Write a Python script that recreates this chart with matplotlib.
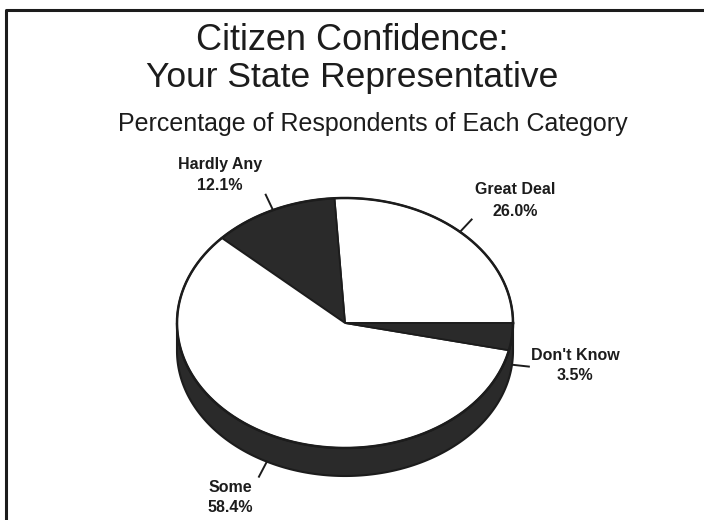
import numpy as np
import matplotlib
matplotlib.use("Agg")
import matplotlib.pyplot as plt
from matplotlib.patches import Polygon

plt.rcParams['font.family'] = ['Liberation Sans', 'DejaVu Sans']

# Survey results
categories = ["Great Deal", "Hardly Any", "Some", "Don't Know"]
shares = [26.0, 12.1, 58.4, 3.5]

# Styling for each slice (top face) and the label anchor points
slice_colors = ["white", "#2a2a2a", "white", "#2a2a2a"]
label_pos = [(515, 190), (220, 164), (230, 487), (575, 355)]

INK = "#1c1c1c"
DARK = "#2a2a2a"

fig = plt.figure(figsize=(7.04, 5.2), dpi=100)
ax = fig.add_axes([0, 0, 1, 1])
ax.set_xlim(0, 704)
ax.set_ylim(520, 0)
ax.axis("off")

# Frame lines (top and left)
ax.plot([6, 6, 704], [520, 10, 10], color=INK, lw=2.2, solid_capstyle="butt")

# Titles
ax.text(352, 40, "Citizen Confidence:", ha="center", va="center",
        fontsize=26, color=INK)
ax.text(352, 78, "Your State Representative", ha="center", va="center",
        fontsize=25.5, color=INK)
ax.text(373, 124, "Percentage of Respondents of Each Category", ha="center",
        va="center", fontsize=18, color=INK)

# 3-D pie geometry
cx, cy, rx, ry, depth = 345, 323, 168, 125, 28


def rim(t_deg, drop=0.0):
    t = np.radians(t_deg)
    return cx + rx * np.cos(t), cy - ry * np.sin(t) + drop


bounds = np.concatenate([[0.0], np.cumsum(shares)]) * 3.6

# Side wall along the front half of the ellipse
t = np.linspace(180, 360, 300)
xt, yt = rim(t)
xb, yb = rim(t, depth)
wall = np.column_stack([np.concatenate([xt, xb[::-1]]),
                        np.concatenate([yt, yb[::-1]])])
ax.add_patch(Polygon(wall, closed=True, facecolor=DARK, edgecolor=INK, lw=1.5))

# Top faces of the slices
for i in range(len(shares)):
    ts = np.linspace(bounds[i], bounds[i + 1], 200)
    xs, ys = rim(ts)
    pts = np.column_stack([np.concatenate([[cx], xs]), np.concatenate([[cy], ys])])
    ax.add_patch(Polygon(pts, closed=True, facecolor=slice_colors[i],
                         edgecolor=INK, lw=1.3, joinstyle="miter"))

# Outline of the top ellipse
ta = np.linspace(0, 360, 600)
xa, ya = rim(ta)
ax.plot(xa, ya, color=INK, lw=1.8)

# Leader lines and labels
for i, (name, val) in enumerate(zip(categories, shares)):
    mid = (bounds[i] + bounds[i + 1]) / 2
    front = np.sin(np.radians(mid)) < 0
    x0, y0 = rim(mid, depth if front else 0)
    ux, uy = np.cos(np.radians(mid)), -np.sin(np.radians(mid))
    ax.plot([x0, x0 + 17 * ux], [y0, y0 + 17 * uy], color=INK, lw=1.4)
    lx, ly = label_pos[i]
    ax.text(lx, ly, name, ha="center", va="center", fontsize=11.5,
            fontweight="bold", color=INK)
    ax.text(lx, ly + 21, f"{val:.1f}%", ha="center", va="center",
            fontsize=11.5, fontweight="bold", color=INK)

fig.savefig("out.png", dpi=100, facecolor="white")
